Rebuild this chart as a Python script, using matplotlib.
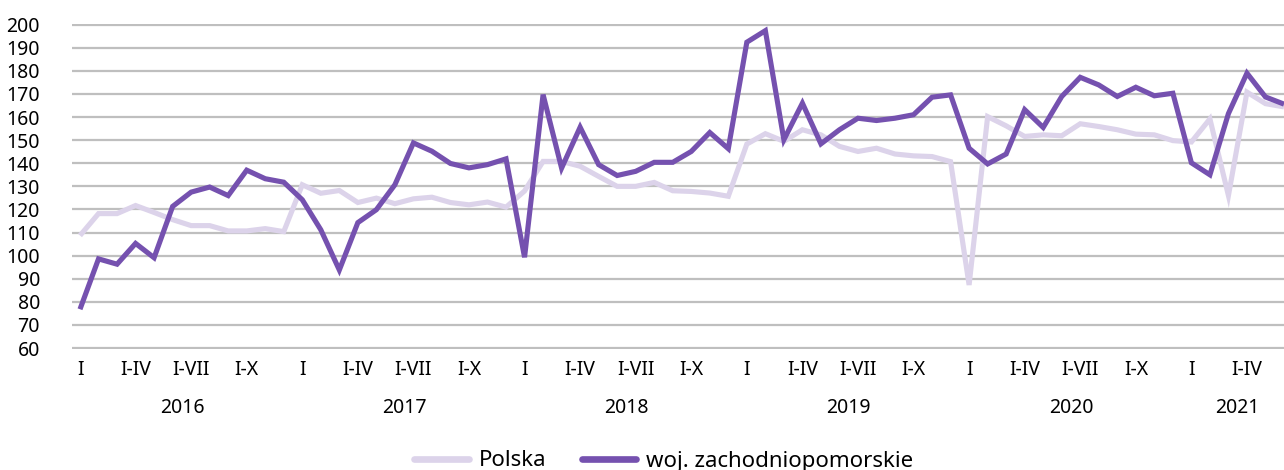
import matplotlib
matplotlib.use("Agg")
import matplotlib.pyplot as plt
import matplotlib.transforms as mtransforms

years = ["2016", "2017", "2018", "2019", "2020", "2021"]
months_per_year = [12, 12, 12, 12, 12, 6]
period_labels = ["I", "I-IV", "I-VII", "I-X"]
period_months = [0, 3, 6, 9]

polska = [108.7, 118.2, 118.2, 121.7, 118.7, 115.6, 113.0, 113.0, 110.7, 110.7, 111.7, 110.4,
          130.7, 127.0, 128.2, 123.0, 124.9, 122.5, 124.6, 125.3, 123.0, 122.0, 123.2, 121.0,
          128.0, 140.8, 140.8, 138.7, 134.3, 130.0, 130.0, 131.7, 128.1, 127.8, 127.1, 125.7,
          148.3, 152.8, 149.5, 154.5, 152.3, 147.3, 145.1, 146.5, 144.0, 143.2, 142.9, 140.7,
          87.3, 160.2, 156.2, 151.6, 152.3, 151.9, 157.1, 155.9, 154.5, 152.6, 152.3, 149.8,
          149.2, 159.2, 126.0, 170.8, 165.8, 164.4]

zachodniopomorskie = [76.8, 98.6, 96.3, 105.3, 99.1, 121.3, 127.5, 129.7, 126.0, 137.0, 133.3, 131.8,
                      124.2, 111.2, 93.8, 114.3, 119.9, 130.7, 148.8, 145.2, 139.9, 138.0, 139.4, 141.9,
                      99.3, 169.7, 137.9, 155.6, 139.4, 134.7, 136.5, 140.4, 140.4, 145.1, 153.3, 146.3,
                      192.4, 197.4, 150.2, 166.0, 148.4, 154.5, 159.5, 158.5, 159.5, 161.0, 168.6, 169.6,
                      146.5, 139.7, 144.0, 163.2, 155.5, 168.9, 177.2, 173.9, 168.9, 172.9, 169.2, 170.3,
                      140.2, 135.0, 161.5, 179.0, 168.7, 165.6]

series_names = ["Polska", "woj. zachodniopomorskie"]
colors = ["#DCD3EA", "#7551AF"]

plt.rcParams['font.family'] = ['Noto Sans', 'DejaVu Sans']

W, H = 1284, 470
fig = plt.figure(figsize=(W / 100, H / 100), dpi=100)

y_top_px, y_bot_px = 23.5, 349.2
x_left_px = 72
ax = fig.add_axes([x_left_px / W, 1 - y_bot_px / H, 1 - x_left_px / W, (y_bot_px - y_top_px) / H])

x = list(range(len(polska)))
ax.plot(x, polska, color=colors[0], lw=3.7, solid_joinstyle='miter', solid_capstyle='butt',
        label=series_names[0], zorder=3)
ax.plot(x, zachodniopomorskie, color=colors[1], lw=3.7, solid_joinstyle='miter', solid_capstyle='butt',
        label=series_names[1], zorder=4)

ax.set_xlim(-0.432, len(polska) - 1)
ax.set_ylim(59.5, 200.5)
ax.set_yticks(range(60, 201, 10))
ax.yaxis.grid(True, color="#BFBFBF", lw=1.6, zorder=0)
ax.set_axisbelow(True)
for s in ax.spines.values():
    s.set_visible(False)
ax.tick_params(axis='y', length=0, pad=23, labelsize=14, colors="#000000")

# x tick labels (periods)
xt, xl = [], []
start = 0
year_centers = []
for yi, n in enumerate(months_per_year):
    for m, lab in zip(period_months, period_labels):
        if m < n:
            xt.append(start + m)
            xl.append(lab)
    year_centers.append(start + (n - 1) / 2)
    start += n
ax.set_xticks(xt)
ax.set_xticklabels(xl)
ax.tick_params(axis='x', length=0, pad=8, labelsize=14, colors="#000000")

trans = mtransforms.blended_transform_factory(ax.transData, fig.transFigure)
for yc, yr in zip(year_centers, years):
    ax.text(yc, 1 - 408 / H, yr, transform=trans, ha='center', va='center', fontsize=14)

leg = fig.legend(loc='center', bbox_to_anchor=(664 / W, 1 - 461 / H), ncol=2, frameon=False,
                 fontsize=16, handlelength=2.45, handletextpad=0.45, columnspacing=1.6,
                 borderpad=0, borderaxespad=0)
for line in leg.get_lines():
    line.set_linewidth(4.8)
    line.set_solid_capstyle('round')

fig.savefig("out.png", dpi=100)
